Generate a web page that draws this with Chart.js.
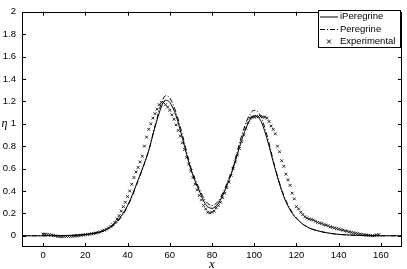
<!DOCTYPE html>
<html>
<head>
<meta charset="utf-8">
<script src="https://cdn.jsdelivr.net/npm/chart.js@4/dist/chart.umd.min.js"></script>
<style>
  body { margin: 0; background: #fff; }
  #wrap { width: 407px; height: 269px; }
</style>
</head>
<body>
<div id="wrap"><canvas id="grafico"></canvas></div>
<script>
// tick values
const xTicks = [0, 20, 40, 60, 80, 100, 120, 140, 160];
const yTicks = [0, 0.2, 0.4, 0.6, 0.8, 1, 1.2, 1.4, 1.6, 1.8, 2];

// iPeregrine (solid)
const iperX = [-10, 0, 10, 15, 20, 25, 30, 35, 40, 45, 50, 53, 56, 58, 60, 63, 66, 70, 74, 77, 80, 83, 86, 90, 94, 97, 100, 103, 106, 110, 114, 118, 122, 126, 130, 135, 140, 150, 160, 170];
const iperY = [0, 0, 0.002, 0.005, 0.012, 0.025, 0.055, 0.13, 0.27, 0.50, 0.76, 0.97, 1.15, 1.21, 1.19, 1.07, 0.87, 0.59, 0.40, 0.28, 0.245, 0.29, 0.40, 0.60, 0.85, 1.00, 1.07, 1.03, 0.87, 0.59, 0.35, 0.20, 0.12, 0.07, 0.045, 0.025, 0.013, 0.003, 0, 0];

// Peregrine (dash-dot)
const perX = [-10, 0, 10, 15, 20, 25, 30, 35, 40, 45, 50, 53, 56, 58, 60, 63, 66, 70, 74, 77, 80, 83, 86, 90, 94, 97, 100, 103, 106, 110, 114, 118, 122, 126, 130, 135, 140, 150, 160, 170];
const perY = [0, 0, 0.002, 0.005, 0.012, 0.025, 0.055, 0.12, 0.26, 0.49, 0.76, 0.98, 1.18, 1.25, 1.23, 1.10, 0.90, 0.61, 0.42, 0.31, 0.27, 0.31, 0.42, 0.62, 0.89, 1.05, 1.12, 1.07, 0.90, 0.60, 0.36, 0.21, 0.12, 0.07, 0.045, 0.025, 0.013, 0.003, 0, 0];

// Experimental (x = 0..159)
const expX = [];
for (let i = 0; i < 160; i++) expX.push(i);
const expY = [
  0.015, 0.015, 0.012, 0.01, 0.008, 0.004, 0.0, -0.005, -0.008, -0.008,
  -0.006, -0.005, -0.006, -0.005, -0.004, -0.002, 0.0, 0.002, 0.005, 0.008,
  0.01, 0.012, 0.015, 0.018, 0.02, 0.025, 0.03, 0.035, 0.045, 0.05,
  0.06, 0.07, 0.085, 0.10, 0.12, 0.15, 0.18, 0.22, 0.26, 0.30,
  0.35, 0.40, 0.46, 0.52, 0.57, 0.61, 0.66, 0.71, 0.80, 0.88,
  0.95, 1.00, 1.05, 1.09, 1.13, 1.17, 1.19, 1.19, 1.17, 1.15,
  1.12, 1.08, 1.04, 0.99, 0.94, 0.89, 0.83, 0.77, 0.70, 0.64,
  0.58, 0.52, 0.46, 0.41, 0.36, 0.32, 0.27, 0.24, 0.21, 0.205,
  0.21, 0.22, 0.25, 0.27, 0.30, 0.34, 0.38, 0.43, 0.48, 0.54,
  0.60, 0.66, 0.72, 0.78, 0.84, 0.90, 0.96, 1.01, 1.05, 1.06,
  1.06, 1.065, 1.065, 1.065, 1.06, 1.06, 1.05, 1.02, 0.98, 0.95,
  0.91, 0.80, 0.75, 0.67, 0.62, 0.55, 0.50, 0.45, 0.38, 0.33,
  0.26, 0.24, 0.21, 0.19, 0.17, 0.16, 0.15, 0.145, 0.14, 0.13,
  0.12, 0.115, 0.11, 0.10, 0.095, 0.09, 0.08, 0.075, 0.07, 0.065,
  0.06, 0.055, 0.05, 0.045, 0.04, 0.035, 0.03, 0.027, 0.023, 0.02,
  0.015, 0.012, 0.01, 0.007, 0.005, 0.003, 0.0, 0.003, 0.008, 0.01
];

function pares(xs, ys) {
  return xs.map((x, i) => ({ x: x, y: ys[i] }));
}

const fonte = { family: 'Liberation Sans, Arial, sans-serif', size: 9.5 };

// inward ticks on all four sides, box and eta label
const moldura = {
  id: 'moldura',
  afterDraw(chart) {
    const c = chart.ctx;
    const a = chart.chartArea;
    const sx = chart.scales.x, sy = chart.scales.y;
    c.save();
    c.strokeStyle = '#000';
    c.lineWidth = 1;
    c.beginPath();
    xTicks.forEach(v => {
      const px = Math.round(sx.getPixelForValue(v)) + 0.5;
      c.moveTo(px, a.bottom); c.lineTo(px, a.bottom - 4);
      c.moveTo(px, a.top); c.lineTo(px, a.top + 4);
    });
    yTicks.forEach(v => {
      const py = Math.round(sy.getPixelForValue(v)) + 0.5;
      c.moveTo(a.left, py); c.lineTo(a.left + 4, py);
      c.moveTo(a.right, py); c.lineTo(a.right - 4, py);
    });
    c.stroke();
    c.strokeRect(Math.round(a.left) + 0.5, Math.round(a.top) + 0.5,
      Math.round(a.right - a.left) - 1, Math.round(a.bottom - a.top) - 1);

    c.fillStyle = '#000';
    c.font = 'italic 12px "Liberation Serif", serif';
    c.textAlign = 'center';
    c.textBaseline = 'middle';
    c.fillText('η', 4.5, sy.getPixelForValue(1));
    c.restore();
  }
};

// legend box in the upper right corner
const legenda = {
  id: 'legenda',
  afterDraw(chart) {
    const c = chart.ctx;
    const bx = 318, by = 10, bw = 82, bh = 37;
    c.save();
    c.fillStyle = '#fff';
    c.fillRect(bx, by, bw, bh);
    c.strokeStyle = '#000';
    c.lineWidth = 1;
    c.strokeRect(bx + 0.5, by + 0.5, bw, bh);
    c.font = '9.5px "Liberation Sans", Arial, sans-serif';
    c.textBaseline = 'middle';
    c.textAlign = 'left';
    chart.data.datasets.forEach((ds, i) => {
      const y = by + 6.5 + i * 12.5;
      c.strokeStyle = '#000';
      if (ds.showLine === false) {
        c.setLineDash([]);
        c.beginPath();
        c.moveTo(327, y - 2); c.lineTo(331, y + 2);
        c.moveTo(331, y - 2); c.lineTo(327, y + 2);
        c.stroke();
      } else {
        c.setLineDash(ds.borderDash || []);
        c.beginPath();
        c.moveTo(320, y + 0.5); c.lineTo(338, y + 0.5);
        c.stroke();
      }
      c.setLineDash([]);
      c.fillStyle = '#000';
      c.fillText(ds.label, 340, y);
    });
    c.restore();
  }
};

const ctx = document.getElementById('grafico');

const grafico = new Chart(ctx, {
  type: 'scatter',
  data: {
    datasets: [
      {
        label: 'iPeregrine',
        data: pares(iperX, iperY),
        showLine: true,
        borderColor: '#000',
        borderWidth: 1,
        pointRadius: 0,
        cubicInterpolationMode: 'monotone'
      },
      {
        label: 'Peregrine',
        data: pares(perX, perY),
        showLine: true,
        borderColor: '#000',
        borderWidth: 1,
        borderDash: [5, 2, 1, 2],
        pointRadius: 0,
        cubicInterpolationMode: 'monotone'
      },
      {
        label: 'Experimental',
        data: pares(expX, expY),
        showLine: false,
        pointStyle: 'crossRot',
        pointRadius: 2,
        borderColor: '#222',
        borderWidth: 1,
        backgroundColor: '#222'
      }
    ]
  },
  options: {
    responsive: true,
    maintainAspectRatio: false,
    animation: false,
    layout: { padding: { left: 0, right: 4, top: 8, bottom: 0 } },
    plugins: {
      legend: { display: false },
      tooltip: { enabled: false }
    },
    scales: {
      x: {
        type: 'linear',
        min: -10,
        max: 170,
        afterBuildTicks: s => { s.ticks = xTicks.map(v => ({ value: v })); },
        afterFit: s => { s.height = 22; },
        grid: { display: false, drawTicks: false },
        border: { display: false },
        ticks: { color: '#000', font: fonte, padding: 3, maxRotation: 0, autoSkip: false,
          callback: v => String(v) },
        title: {
          display: true,
          text: 'x',
          color: '#000',
          padding: 0,
          font: { family: 'Liberation Serif, serif', style: 'italic', size: 13, lineHeight: 0.75 }
        }
      },
      y: {
        min: -0.1,
        max: 2,
        afterBuildTicks: s => { s.ticks = yTicks.map(v => ({ value: v })); },
        afterFit: s => { s.width = 22; },
        grid: { display: false, drawTicks: false },
        border: { display: false },
        ticks: { color: '#000', font: fonte, padding: 6, autoSkip: false,
          callback: v => String(Math.round(v * 10) / 10) }
      }
    }
  },
  plugins: [moldura, legenda]
});
</script>
</body>
</html>
